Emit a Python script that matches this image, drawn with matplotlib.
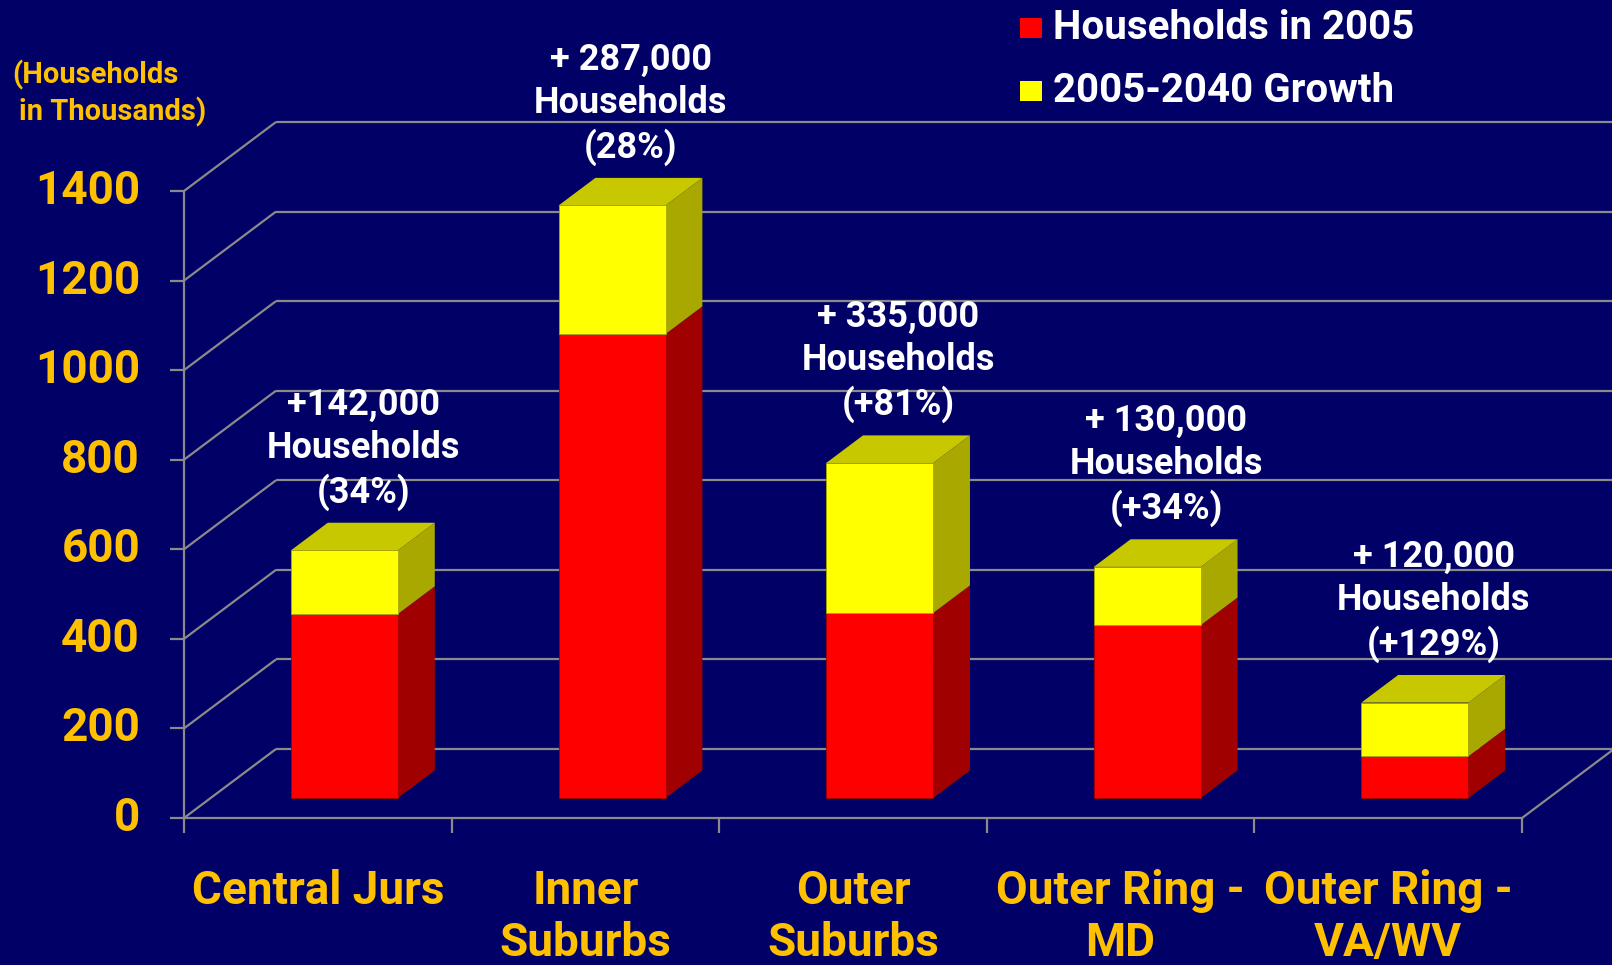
import matplotlib
matplotlib.use("Agg")
import matplotlib.pyplot as plt
from matplotlib.patches import Polygon

# Data (households in thousands)
categories = ["Central Jurs", "Inner\nSuburbs", "Outer\nSuburbs",
              "Outer Ring -\nMD", "Outer Ring -\nVA/WV"]
hh_2005 = [411, 1036, 413, 386, 93]
growth = [142, 287, 335, 130, 120]
growth_labels = ["+142,000\nHouseholds\n(34%)",
                 "+ 287,000\nHouseholds\n(28%)",
                 "+ 335,000\nHouseholds\n(+81%)",
                 "+ 130,000\nHouseholds\n(+34%)",
                 "+ 120,000\nHouseholds\n(+129%)"]
yticks = [0, 200, 400, 600, 800, 1000, 1200, 1400]
legend_labels = ["Households in 2005", "2005-2040 Growth"]

# Style
BG = "#000066"
GOLD = "#FFC000"
GRID = "#8a8a8a"
RED, RED_SIDE = "#FF0000", "#A00000"
YEL, YEL_SIDE, YEL_TOP = "#FFFF00", "#A8A800", "#C8C800"
FONT = ["Roboto", "DejaVu Sans"]

W, H = 1612, 965
fig = plt.figure(figsize=(W / 100, H / 100), dpi=100, facecolor=BG)

# axes = front plane of the 3D box (pixels measured from reference)
x0_px, x1_px, y0_px, y1_px = 184, 1522, 818, 191
ax = fig.add_axes([x0_px / W, 1 - y0_px / H, (x1_px - x0_px) / W, (y0_px - y1_px) / H])
ax.set_xlim(0, 5)
ax.set_ylim(0, 1400)
ax.axis("off")
ax.set_facecolor(BG)

px_x = (x1_px - x0_px) / 5.0      # pixels per category
px_y = (y0_px - y1_px) / 1400.0   # pixels per household (thousand)
DX = 92 / px_x                    # full depth offset, data units
DY = 69 / px_y
f0, f1 = 0.29, 0.69               # bar front / back depth fractions
bw = 107 / px_x                   # bar width
n = len(categories)

lk = dict(color=GRID, lw=1.6, clip_on=False, solid_capstyle="butt", zorder=1)
# left wall and back wall gridlines
for v in yticks:
    ax.plot([0, DX], [v, v + DY], **lk)
    ax.plot([DX, n + DX], [v + DY, v + DY], **lk)
    ax.plot([-14 / px_x, 0], [v, v], **lk)
# floor and axes
ax.plot([0, n], [0, 0], **lk)
ax.plot([n, n + DX], [0, DY], **lk)
ax.plot([0, 0], [0, 1400], **lk)
for i in range(n + 1):
    ax.plot([i, i], [0, -15 / px_y], **lk)


def draw_segment(i, y_lo, y_hi, front, side, top=None):
    c = i + 0.5 + f0 * DX
    xl, xr = c - bw / 2, c + bw / 2
    d = (f1 - f0)
    ax.bar(c, y_hi - y_lo, width=bw, bottom=y_lo + f0 * DY, color=front,
           edgecolor=side, linewidth=0.6, zorder=3, clip_on=False)
    ax.add_patch(Polygon([(xr, y_lo + f0 * DY), (xr + d * DX, y_lo + f1 * DY),
                          (xr + d * DX, y_hi + f1 * DY), (xr, y_hi + f0 * DY)],
                         closed=True, facecolor=side, edgecolor="none",
                         zorder=2, clip_on=False))
    if top is not None:
        ax.add_patch(Polygon([(xl, y_hi + f0 * DY), (xr, y_hi + f0 * DY),
                              (xr + d * DX, y_hi + f1 * DY), (xl + d * DX, y_hi + f1 * DY)],
                             closed=True, facecolor=top, edgecolor="none",
                             zorder=2, clip_on=False))


for i in range(n):
    base = hh_2005[i]
    total = base + growth[i]
    draw_segment(i, 0, base, RED, RED_SIDE)
    draw_segment(i, base, total, YEL, YEL_SIDE, YEL_TOP)
    ax.text(i + 0.5 + 0.17, total + f1 * DY + 27, growth_labels[i],
            ha="center", va="bottom", color="white", fontsize=26,
            fontweight="bold", family=FONT, linespacing=1.25, clip_on=False)
    # category label, one line at a time (first baseline ~904px)
    for k, line in enumerate(categories[i].split("\n")):
        ax.text(i + 0.5, -(904 + 52 * k - y0_px) / px_y, line, ha="center",
                va="baseline", color=GOLD, fontsize=33, fontweight="bold",
                family=FONT, clip_on=False)

# y tick labels
for v in yticks:
    ax.text(-44 / px_x, v, str(v), ha="right", va="center", color=GOLD,
            fontsize=33, fontweight="bold", family=FONT, clip_on=False)

# axis title
fig.text(12 / W, 1 - 75 / H, "(Households", ha="left", va="center",
         color=GOLD, fontsize=21, fontweight="bold", family=FONT)
fig.text(19 / W, 1 - 112 / H, "in Thousands)", ha="left", va="center",
         color=GOLD, fontsize=21, fontweight="bold", family=FONT)

# legend
for k, (lab, col) in enumerate(zip(legend_labels, [RED, YEL])):
    yc = [28, 91][k]
    fig.patches.append(plt.Rectangle((1020 / W, 1 - (yc + 10) / H), 22 / W, 20 / H,
                                     transform=fig.transFigure, facecolor=col,
                                     edgecolor="none"))
    fig.text(1053 / W, 1 - yc / H, lab, ha="left", va="center", color="white",
             fontsize=29, fontweight="bold", family=FONT)

fig.savefig("out.png", dpi=100, facecolor=BG)
